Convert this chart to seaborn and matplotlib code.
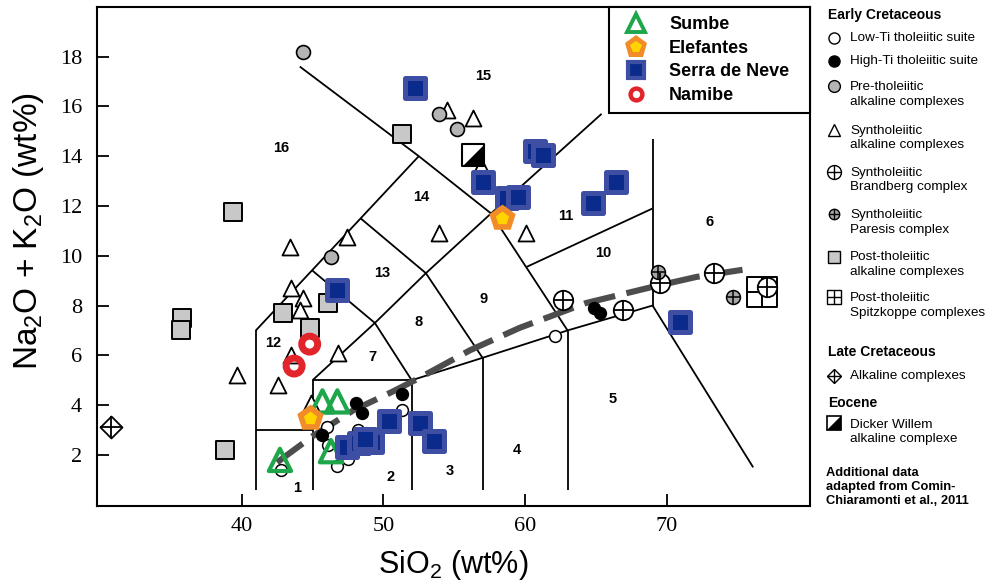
import numpy as np
import pandas as pd
import matplotlib
matplotlib.use("Agg")
import matplotlib.pyplot as plt
import seaborn as sns
from matplotlib.lines import Line2D
from matplotlib.legend_handler import HandlerTuple

sns.set_theme(style="white")
plt.rcParams["font.family"] = ["Liberation Sans", "DejaVu Sans"]
plt.rcParams["text.color"] = "black"
plt.rcParams["axes.labelcolor"] = "black"
plt.rcParams["mathtext.fontset"] = "custom"
plt.rcParams["mathtext.rm"] = "Liberation Sans"
plt.rcParams["mathtext.it"] = "Liberation Sans"

# ---------------- data (SiO2 wt%, Na2O+K2O wt%) ----------------
sumbe_x = [42.7, 45.7, 46.75, 46.3]
sumbe_y = [1.8, 4.15, 4.15, 2.15]

elefantes_x = [58.35, 44.8]
elefantes_y = [11.5, 3.5]

serra_x = [52.2, 60.7, 61.3, 57.05, 58.75, 59.5, 64.8, 66.4, 46.7, 70.95,
           47.4, 48.25, 49.2, 48.7, 50.4, 52.6, 53.6]
serra_y = [16.75, 14.2, 14.05, 12.95, 12.3, 12.37, 12.1, 12.98, 8.63, 7.35,
           2.33, 2.47, 2.5, 2.65, 3.38, 3.3, 2.55]

namibe_x = [44.8, 43.7]
namibe_y = [6.45, 5.57]

lowti_x = [42.8, 46.0, 46.1, 46.7, 47.5, 48.2, 51.3, 62.1]
lowti_y = [1.4, 3.14, 2.4, 1.55, 1.85, 3.0, 3.8, 6.79]

highti_x = [45.7, 48.1, 48.5, 51.35, 64.9, 65.3]
highti_y = [2.8, 4.08, 3.67, 4.43, 7.9, 7.7]

pretho_x = [44.35, 53.9, 55.2, 46.3]
pretho_y = [18.2, 15.7, 15.1, 9.96]

synalk_x = [43.4, 47.45, 54.5, 56.35, 53.9, 60.1, 43.5, 44.35, 44.1, 43.5,
            46.8, 39.7, 42.55, 44.9, 56.9]
synalk_y = [10.37, 10.77, 15.86, 15.52, 10.9, 10.9, 8.7, 8.29, 7.82, 6.02,
            6.08, 5.21, 4.81, 4.1, 13.6]

brandberg_x = [62.7, 66.9, 69.5, 73.3, 77.05]
brandberg_y = [8.22, 7.82, 8.9, 9.3, 8.76]

paresis_x = [69.4, 74.7]
paresis_y = [9.36, 8.36]

posttho_x = [51.3, 39.4, 42.95, 46.1, 44.8, 35.8, 35.7, 38.8]
posttho_y = [14.88, 11.77, 7.69, 8.09, 7.09, 7.49, 7.01, 2.2]

spitz_x = [76.7]
spitz_y = [8.56]

latecret_x = [30.8]
latecret_y = [3.14]

dicker_x = [56.35]
dicker_y = [14.05]

# alkaline / subalkaline divide (dashed curve)
curve_x = [42.5, 45.0, 47.9, 50.5, 52.4, 54.5, 56.1, 59.6, 64.3, 69.0, 72.1, 75.5]
curve_y = [1.7, 2.75, 3.8, 4.5, 5.05, 5.7, 6.2, 7.1, 8.1, 8.75, 9.15, 9.45]

# TAS field boundaries (polylines)
tas_lines = [
    ([41, 41], [0.6, 7]),
    ([41, 52.5], [7, 14]),
    ([41, 45], [3, 3]),
    ([45, 45], [0.6, 5]),
    ([45, 52], [5, 5]),
    ([52, 52], [0.6, 5]),
    ([52, 57, 63, 69, 76.1], [5, 5.9, 7, 8, 1.5]),
    ([57, 57], [0.6, 5.9]),
    ([63, 63], [0.6, 7]),
    ([45, 49.4, 53, 57.6, 65.4], [5, 7.3, 9.3, 11.7, 15.7]),
    ([45, 49.4, 52], [9.4, 7.3, 5]),
    ([48.4, 53, 57], [11.5, 9.3, 5.9]),
    ([44.1, 52.5, 57.6, 63], [17.6, 14, 11.7, 7]),
    ([60.1, 69], [9.55, 11.9]),
    ([69, 69], [8, 14.7]),
]

field_labels = ["1", "2", "3", "4", "5", "6", "7", "8", "9", "10", "11", "12", "13", "14", "15", "16"]
field_x = [43.9, 50.5, 54.7, 59.4, 66.2, 73.05, 49.2, 52.5, 57.05, 65.5, 62.9, 42.2, 49.9, 52.7, 57.05, 42.8]
field_y = [0.66, 1.13, 1.37, 2.2, 4.24, 11.37, 5.95, 7.35, 8.25, 10.1, 11.6, 6.49, 9.3, 12.37, 17.22, 14.32]

# ---------------- figure ----------------
W, H = 994, 582
fig = plt.figure(figsize=(W / 100, H / 100), dpi=100)
ax = fig.add_axes([97.3 / W, (H - 505.7) / H, 712.7 / W, 498.4 / H])
ax.set_xlim(29.81, 80.11)
ax.set_ylim(-0.04, 19.98)

for xs, ys in tas_lines:
    ax.plot(xs, ys, color="black", lw=1.3, zorder=2, solid_capstyle="butt")

ax.plot(curve_x, curve_y, color="#4d4d4d", lw=4.4, zorder=2.5,
        linestyle=(0, (5.2, 1.9)), dash_capstyle="butt")


def sc(x, y, marker, s, fc, ec, lw, z):
    sns.scatterplot(x=x, y=y, marker=marker, s=s, color=ec, facecolor=fc,
                    edgecolor=ec, linewidth=lw, zorder=z, ax=ax, legend=False)


def plus(x, y, s, lw, z, color="black"):
    sns.scatterplot(x=x, y=y, marker="+", s=s, color=color, linewidth=lw,
                    zorder=z, ax=ax, legend=False)


half = [(-1, -1), (1, -1), (1, 1)]

# comparison data (Comin-Chiaramonti et al., 2011)
sc(posttho_x, posttho_y, "s", 169, "#c8c8c8", "black", 1.4, 3)
sc(synalk_x, synalk_y, "^", 132, "white", "black", 1.3, 3)
sc(pretho_x, pretho_y, "o", 100, "#b4b4b4", "black", 1.2, 3)
sc(lowti_x, lowti_y, "o", 72, "white", "black", 1.1, 3.1)
sc(highti_x, highti_y, "o", 72, "black", "black", 1.1, 3.1)
sc(spitz_x, spitz_y, "s", 441, "white", "black", 1.4, 3.2)
plus(spitz_x, spitz_y, 441, 1.4, 3.21)
sc(brandberg_x, brandberg_y, "o", 196, "white", "black", 1.3, 3.3)
plus(brandberg_x, brandberg_y, 196, 1.3, 3.31)
sc(paresis_x, paresis_y, "o", 100, "#a8a8a8", "black", 1.1, 3.3)
plus(paresis_x, paresis_y, 100, 1.1, 3.31)
sc(latecret_x, latecret_y, "D", 125, "white", "black", 1.3, 3.3)
plus(latecret_x, latecret_y, 250, 1.3, 3.31)
sc(dicker_x, dicker_y, "s", 256, "white", "black", 1.5, 3.3)
sc(dicker_x, dicker_y, half, 256, "black", "black", 0.5, 3.31)

# this study
green = "#1ea64b"
orange = "#f28c28"
yellow = "#ffd400"
navy = "#0a2b8c"
blue2 = "#3e4ea2"
red = "#e2242b"

sc(sumbe_x, sumbe_y, "^", 256, "none", green, 3.0, 4)
sc(namibe_x, namibe_y, "o", 132, "none", red, 5.0, 4)
sc(serra_x, serra_y, "s", 188, navy, blue2, 3.6, 5)
sc(elefantes_x, elefantes_y, "p", 400, orange, orange, 0.0, 6)
sc(elefantes_x, elefantes_y, "p", 100, yellow, yellow, 0.0, 6.1)

for lab, fx_, fy_ in zip(field_labels, field_x, field_y):
    ax.text(fx_, fy_, lab, ha="center", va="center", fontsize=10.5,
            fontweight="bold", color="black", zorder=7)

# axes styling
for sp in ax.spines.values():
    sp.set_color("black")
    sp.set_linewidth(1.5)
ax.set_xticks([40, 50, 60, 70])
ax.set_yticks([2, 4, 6, 8, 10, 12, 14, 16, 18])
ax.tick_params(direction="in", length=8.5, width=1.3, color="black",
               bottom=True, left=True, labelsize=16, labelcolor="black")
ax.tick_params(axis="y", pad=11)
ax.tick_params(axis="x", pad=8)
for t in ax.get_xticklabels() + ax.get_yticklabels():
    t.set_fontfamily("Liberation Serif")
ax.set_xlabel(r"SiO$_2$ (wt%)", fontsize=22, labelpad=9)
ax.set_ylabel(r"Na$_2$O + K$_2$O (wt%)", fontsize=24)
ax.yaxis.set_label_coords(-0.072, 0.551)

# legend for this study
h_sumbe = Line2D([], [], ls="none", marker="^", ms=13, mfc="none", mec=green, mew=2.8)
h_ele1 = Line2D([], [], ls="none", marker="p", ms=17, mfc=orange, mec=orange, mew=0)
h_ele2 = Line2D([], [], ls="none", marker="p", ms=8.5, mfc=yellow, mec=yellow, mew=0)
h_serra = Line2D([], [], ls="none", marker="s", ms=11, mfc=navy, mec=blue2, mew=3)
h_nam = Line2D([], [], ls="none", marker="o", ms=8.5, mfc="none", mec=red, mew=3.2)
leg = ax.legend([h_sumbe, (h_ele1, h_ele2), h_serra, h_nam],
                ["Sumbe", "Elefantes", "Serra de Neve", "Namibe"],
                handler_map={tuple: HandlerTuple(ndivide=1, pad=0)},
                loc="upper left", bbox_to_anchor=(0.718, 0, 0.282, 1), mode="expand",
                borderaxespad=0, prop={"weight": "bold", "size": 13},
                frameon=True, fancybox=False, borderpad=0.5, handlelength=2.0,
                handletextpad=0.83, labelspacing=0.36)
fr = leg.get_frame()
fr.set_edgecolor("black")
fr.set_linewidth(1.5)
fr.set_facecolor("white")
fr.set_alpha(1)
leg.set_zorder(10)

# right-hand key (Comin-Chiaramonti groups)
def fx(px):
    return px / W


def fy(py):
    return 1 - py / H


def key_marker(py, marker, ms, fc, mew=1.0, ec="black"):
    fig.add_artist(Line2D([fx(834)], [fy(py)], ls="none", marker=marker, ms=ms,
                          mfc=fc, mec=ec, mew=mew, transform=fig.transFigure))


def key_text(py, txt, bold=False, x=850, size=9.7):
    fig.text(fx(x), fy(py), txt, ha="left", va="center", fontsize=size,
             fontweight="bold" if bold else "normal", color="black",
             linespacing=1.25)


key_text(15, "Early Cretaceous", bold=True, x=828, size=10)
key_marker(38, "o", 8, "white")
key_text(38, "Low-Ti tholeiitic suite")
key_marker(61, "o", 8, "black")
key_text(61, "High-Ti tholeiitic suite")
key_marker(86, "o", 8.5, "#b4b4b4")
key_text(94.5, "Pre-tholeiitic\nalkaline complexes")
key_marker(130, "^", 9, "white")
key_text(138, "Syntholeiitic\nalkaline complexes")
key_marker(172, "o", 10, "white")
key_marker(172, "+", 10, "white")
key_text(180, "Syntholeiitic\nBrandberg complex")
key_marker(214, "o", 7.5, "#a8a8a8")
key_marker(214, "+", 7.5, "black")
key_text(222.5, "Syntholeiitic\nParesis complex")
key_marker(257, "s", 9, "#c8c8c8")
key_text(264.5, "Post-tholeiitic\nalkaline complexes")
key_marker(297, "s", 9.5, "white")
key_marker(297, "+", 9.5, "white")
key_text(305.5, "Post-tholeiitic\nSpitzkoppe complexes")
key_text(352, "Late Cretaceous", bold=True, x=828, size=10)
key_marker(376, "D", 7.5, "white")
key_marker(376, "+", 10.6, "white")
key_text(376, "Alkaline complexes")
key_text(403, "Eocene", bold=True, x=828, size=10)
key_marker(423, "s", 9.5, "white", mew=1.2)
key_marker(423, half, 9.5, "black", mew=0.3)
key_text(432, "Dicker Willem\nalkaline complexe")
key_text(487, "Additional data\nadapted from Comin-\nChiaramonti et al., 2011",
         bold=True, x=826, size=9.3)

fig.savefig("out.png", dpi=100)
